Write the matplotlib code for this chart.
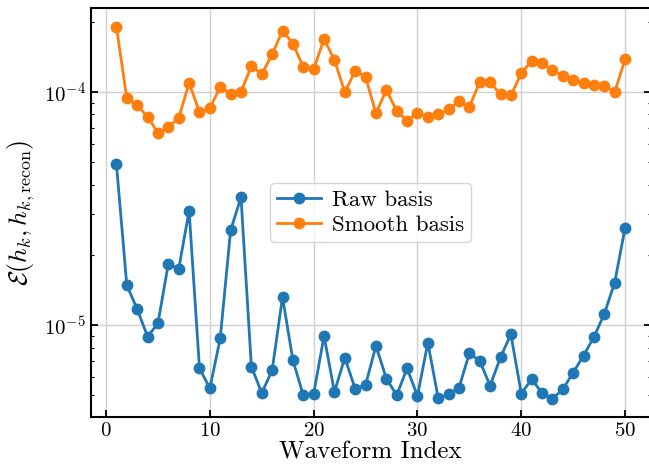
import matplotlib
matplotlib.use("Agg")
import matplotlib.pyplot as plt
from matplotlib.ticker import LogLocator, NullFormatter

plt.rcParams['font.family'] = 'serif'
plt.rcParams['font.serif'] = ['cmr10']
plt.rcParams['mathtext.fontset'] = 'cm'
plt.rcParams['axes.formatter.use_mathtext'] = True
plt.rcParams['axes.unicode_minus'] = False

waveform_index = list(range(1, 51))

raw_basis = [
    4.90e-5, 1.48e-5, 1.17e-5, 8.91e-6, 1.017e-5, 1.83e-5, 1.74e-5, 3.09e-5, 6.52e-6, 5.35e-6,
    8.77e-6, 2.55e-5, 3.53e-5, 6.63e-6, 5.11e-6, 6.39e-6, 1.32e-5, 7.06e-6, 5.00e-6, 5.06e-6,
    8.97e-6, 5.16e-6, 7.24e-6, 5.32e-6, 5.53e-6, 8.15e-6, 5.89e-6, 5.00e-6, 6.52e-6, 4.96e-6,
    8.40e-6, 4.85e-6, 5.05e-6, 5.38e-6, 7.56e-6, 7.01e-6, 5.49e-6, 7.27e-6, 9.12e-6, 5.08e-6,
    5.85e-6, 5.11e-6, 4.82e-6, 5.30e-6, 6.25e-6, 7.39e-6, 8.88e-6, 1.115e-5, 1.52e-5, 2.61e-5,
]

smooth_basis = [
    1.90e-4, 9.37e-5, 8.77e-5, 7.81e-5, 6.67e-5, 7.06e-5, 7.74e-5, 1.093e-4, 8.18e-5, 8.51e-5,
    1.05e-4, 9.84e-5, 1.00e-4, 1.29e-4, 1.19e-4, 1.45e-4, 1.83e-4, 1.61e-4, 1.28e-4, 1.25e-4,
    1.69e-4, 1.37e-4, 9.97e-5, 1.23e-4, 1.16e-4, 8.08e-5, 1.02e-4, 8.29e-5, 7.51e-5, 8.13e-5,
    7.77e-5, 8.00e-5, 8.43e-5, 9.10e-5, 8.62e-5, 1.104e-4, 1.10e-4, 9.75e-5, 9.65e-5, 1.20e-4,
    1.36e-4, 1.33e-4, 1.24e-4, 1.17e-4, 1.12e-4, 1.09e-4, 1.07e-4, 1.06e-4, 9.97e-5, 1.38e-4,
]

series_labels = ['Raw basis', 'Smooth basis']

fig = plt.figure(figsize=(6.49, 4.72), dpi=100)
ax = fig.add_axes([91 / 649, 55 / 472, 559.5 / 649, 409 / 472])

ax.plot(waveform_index, raw_basis, '-o', color='#1f77b4', lw=2.0, ms=7.5, label=series_labels[0])
ax.plot(waveform_index, smooth_basis, '-o', color='#ff7f0e', lw=2.0, ms=7.5, label=series_labels[1])

ax.set_yscale('log')
ax.set_xlim(-1.45, 52.45)
ax.set_ylim(4.03e-6, 2.29e-4)
ax.set_xticks([0, 10, 20, 30, 40, 50])
ax.yaxis.set_minor_locator(LogLocator(base=10, subs=range(2, 10)))
ax.yaxis.set_minor_formatter(NullFormatter())

ax.grid(True, which='major', color='#d0d0d0', lw=1.0)
ax.set_axisbelow(True)

ax.tick_params(axis='both', which='major', direction='in', length=5, width=1.3, labelsize=15)
ax.tick_params(axis='y', which='both', right=True, direction='in')
ax.tick_params(axis='y', which='minor', length=2.5, width=0.8)
ax.tick_params(axis='x', which='both', top=False)
for s in ax.spines.values():
    s.set_linewidth(1.5)

ax.set_xlabel('Waveform Index', fontsize=18, labelpad=1)
ax.set_ylabel(r'$\mathcal{E}(h_k, h_{k,\mathrm{recon}})$', fontsize=18.5, labelpad=5)

ax.legend(loc='center', fontsize=16.5, handlelength=1.9, handletextpad=0.5,
          borderpad=0.3, labelspacing=0.2, borderaxespad=0.3)

fig.savefig('out.png', dpi=100)
